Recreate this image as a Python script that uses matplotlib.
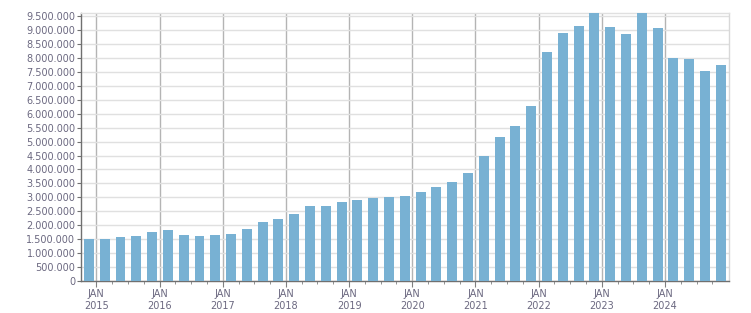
import matplotlib
matplotlib.use("Agg")
import matplotlib.pyplot as plt
from matplotlib.ticker import FuncFormatter, FixedLocator

# quarterly values, Q4 2014 .. Q4 2024
values = [1.50, 1.50, 1.58, 1.62, 1.76, 1.83, 1.64, 1.61, 1.64, 1.68,
          1.86, 2.11, 2.21, 2.39, 2.68, 2.68, 2.82, 2.89, 2.96, 3.00,
          3.04, 3.18, 3.36, 3.54, 3.86, 4.50, 5.18, 5.57, 6.29, 8.21,
          8.89, 9.14, 9.60, 9.11, 8.86, 9.60, 9.07, 8.00, 7.96, 7.54, 7.75]
values = [v * 1e6 for v in values]
years = [2015, 2016, 2017, 2018, 2019, 2020, 2021, 2022, 2023, 2024]
year_labels = ["JAN\n%d" % y for y in years]

bar_col = "#78b1d3"
txt_col = "#6b6880"

fig = plt.figure(figsize=(7.51, 3.13), dpi=100)
ax = fig.add_axes([81 / 751, 32 / 313, 647.7 / 751, 267.7 / 313])

x = list(range(len(values)))
ax.bar(x, values, width=0.63, color=bar_col, zorder=3)

ax.set_xlim(-0.5, len(values) - 0.5)
ax.set_ylim(0, 9.6e6)

ax.set_yticks([i * 500000 for i in range(20)])
ax.yaxis.set_major_formatter(FuncFormatter(lambda v, p: "{:,.0f}".format(v).replace(",", ".")))

major = [4 * i + 0.47 for i in range(len(years))]
minor = [i + 0.47 for i in range(len(values)) if (i % 4) != 0]
ax.xaxis.set_major_locator(FixedLocator(major))
ax.xaxis.set_minor_locator(FixedLocator(minor))
ax.set_xticklabels(year_labels)

ax.grid(axis="y", color="#e0e0e0", linewidth=1, zorder=0)
ax.grid(axis="x", which="major", color="#b4b4b4", linewidth=1, zorder=1)
ax.set_axisbelow(True)

ax.tick_params(axis="y", length=3, color="#707070", labelsize=7, labelcolor=txt_col, pad=1)
ax.tick_params(axis="x", which="major", length=4, color="#808080", labelsize=7, labelcolor=txt_col, pad=2)
ax.tick_params(axis="x", which="minor", length=2, color="#808080")

ax.spines["left"].set_color("#707070")
ax.spines["bottom"].set_color("#707070")
ax.spines["top"].set_color("#e0e0e0")
ax.spines["right"].set_color("#d8d8d8")
for s in ax.spines.values():
    s.set_linewidth(1)

fig.savefig("out.png", dpi=100)
